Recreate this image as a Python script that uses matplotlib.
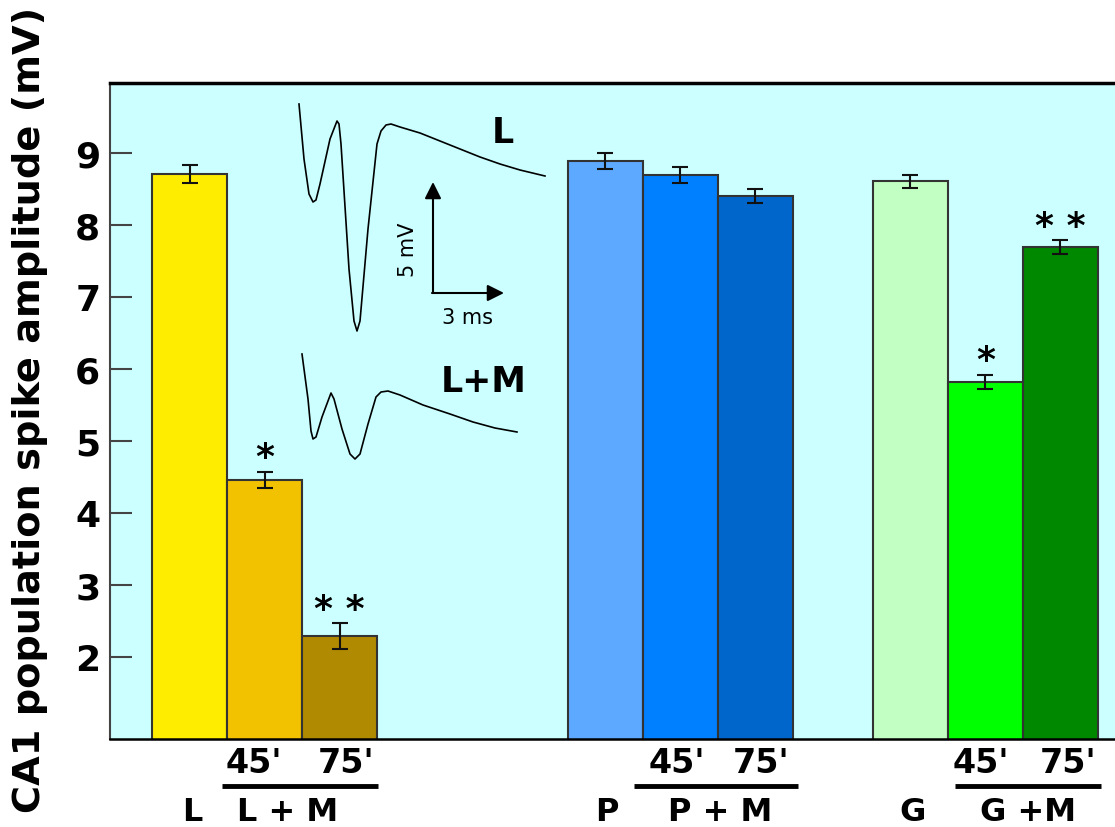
import matplotlib.pyplot as plt

# Bar data (mV)
groups = ['L', 'P', 'G']
control = [8.71, 8.89, 8.61]
t45 = [4.46, 8.69, 5.82]
t75 = [2.29, 8.40, 7.69]
err_control = [0.12, 0.11, 0.09]
err_45 = [0.11, 0.11, 0.10]
err_75 = [0.18, 0.10, 0.10]
stars_45 = ['*', '', '*']
stars_75 = ['* *', '', '* *']

colors = [['#FFED00', '#F2C200', '#B08A00'],
          ['#5CA9FF', '#0080FF', '#0066CC'],
          ['#C2FFC2', '#00FF00', '#008800']]

# Example field potential traces (pixel coords of the inset drawing)
trace_L_x = [299, 304, 309, 313, 316, 320, 330, 337, 339, 341, 349, 354, 357, 360, 368,
             377, 381, 386, 391, 400, 420, 440, 460, 480, 500, 520, 545]
trace_L_y = [105, 160, 195, 203, 201, 185, 140, 122, 125, 145, 270, 322, 332, 322, 230,
             145, 132, 126, 125, 128, 134, 142, 150, 158, 165, 171, 177]
trace_LM_x = [302, 308, 311, 313, 316, 322, 331, 334, 342, 350, 355, 360, 368, 376, 381,
              388, 400, 423, 450, 473, 495, 517]
trace_LM_y = [355, 400, 432, 440, 438, 418, 394, 400, 430, 455, 460, 455, 425, 398, 393,
              392, 396, 406, 415, 423, 429, 433]

W, H = 1115, 828
fig = plt.figure(figsize=(W / 100, H / 100), dpi=100)
ax = fig.add_axes([110 / W, 1 - 740 / H, 1005 / W, 656 / H])
ax.set_facecolor('#CCFFFF')

group_start = [1.06, 6.60, 10.67]
for i in range(len(groups)):
    vals = [control[i], t45[i], t75[i]]
    errs = [err_control[i], err_45[i], err_75[i]]
    xs = [group_start[i] + k for k in range(3)]
    ax.bar(xs, vals, width=1.0, color=colors[i], edgecolor='#333333', linewidth=1.5, zorder=2)
    ax.errorbar(xs, vals, yerr=errs, fmt='none', ecolor='#111111', elinewidth=1.5,
                capsize=6, capthick=1.5, zorder=3)
    for k, s in [(1, stars_45[i]), (2, stars_75[i])]:
        if s:
            ax.text(xs[k], vals[k] + errs[k] + 0.06, s, ha='center', va='baseline',
                    fontsize=26, fontweight='bold', zorder=4)

ax.set_xlim(0, 13.4)
ax.set_ylim(0.856, 9.973)
ax.set_yticks(range(2, 10))
ax.set_xticks([])
ax.tick_params(axis='y', direction='in', length=16, width=1.5, color='#444444',
               labelsize=26, pad=7)
for lab in ax.get_yticklabels():
    lab.set_fontweight('bold')
ax.spines['right'].set_visible(False)
ax.spines['top'].set_linewidth(2.5)
ax.spines['top'].set_color('black')
ax.spines['bottom'].set_linewidth(1.8)
ax.spines['left'].set_linewidth(1.5)
ax.spines['left'].set_color('#444444')

fig.text(30 / W, 1 - 410 / H, 'CA1 population spike amplitude (mV)', rotation=90,
         ha='center', va='center', fontsize=27.5, fontweight='bold')

# Overlay in pixel coordinates for the inset traces and the group labels
ov = fig.add_axes([0, 0, 1, 1], facecolor='none')
ov.set_xlim(0, W)
ov.set_ylim(H, 0)
ov.axis('off')

ov.plot(trace_L_x, trace_L_y, color='black', lw=1.2)
ov.plot(trace_LM_x, trace_LM_y, color='black', lw=1.2)
ov.text(503, 133, 'L', ha='center', va='center', fontsize=25, fontweight='bold')
ov.text(484, 382, 'L+M', ha='center', va='center', fontsize=25, fontweight='bold')

ov.annotate('', xy=(433, 183), xytext=(433, 294),
            arrowprops=dict(arrowstyle='-|>', lw=1.5, color='black', mutation_scale=25,
                            shrinkA=0, shrinkB=0))
ov.annotate('', xy=(504, 294), xytext=(432, 294),
            arrowprops=dict(arrowstyle='-|>', lw=1.5, color='black', mutation_scale=25,
                            shrinkA=0, shrinkB=0))
ov.text(408, 250, '5 mV', rotation=90, ha='center', va='center', fontsize=15)
ov.text(467, 318, '3 ms', ha='center', va='center', fontsize=15)

# Group labels under the axis
label_single = [(192, 'L'), (607, 'P'), (913, 'G')]
label_pair = [(288, 'L + M'), (720, 'P + M'), (1028, 'G +M')]
label_45 = [254, 677, 981]
label_75 = [346, 761, 1068]
lines = [(222, 378), (634, 798), (955, 1101)]
for i in range(3):
    ov.text(label_single[i][0], 821, label_single[i][1], ha='center', va='baseline',
            fontsize=23, fontweight='bold')
    ov.text(label_pair[i][0], 821, label_pair[i][1], ha='center', va='baseline',
            fontsize=23, fontweight='bold')
    ov.text(label_45[i], 773, "45'", ha='center', va='baseline', fontsize=24, fontweight='bold')
    ov.text(label_75[i], 773, "75'", ha='center', va='baseline', fontsize=24, fontweight='bold')
    ov.plot(lines[i], [787, 787], color='black', lw=3.5, solid_capstyle='butt')

plt.savefig('out.png', dpi=100)
